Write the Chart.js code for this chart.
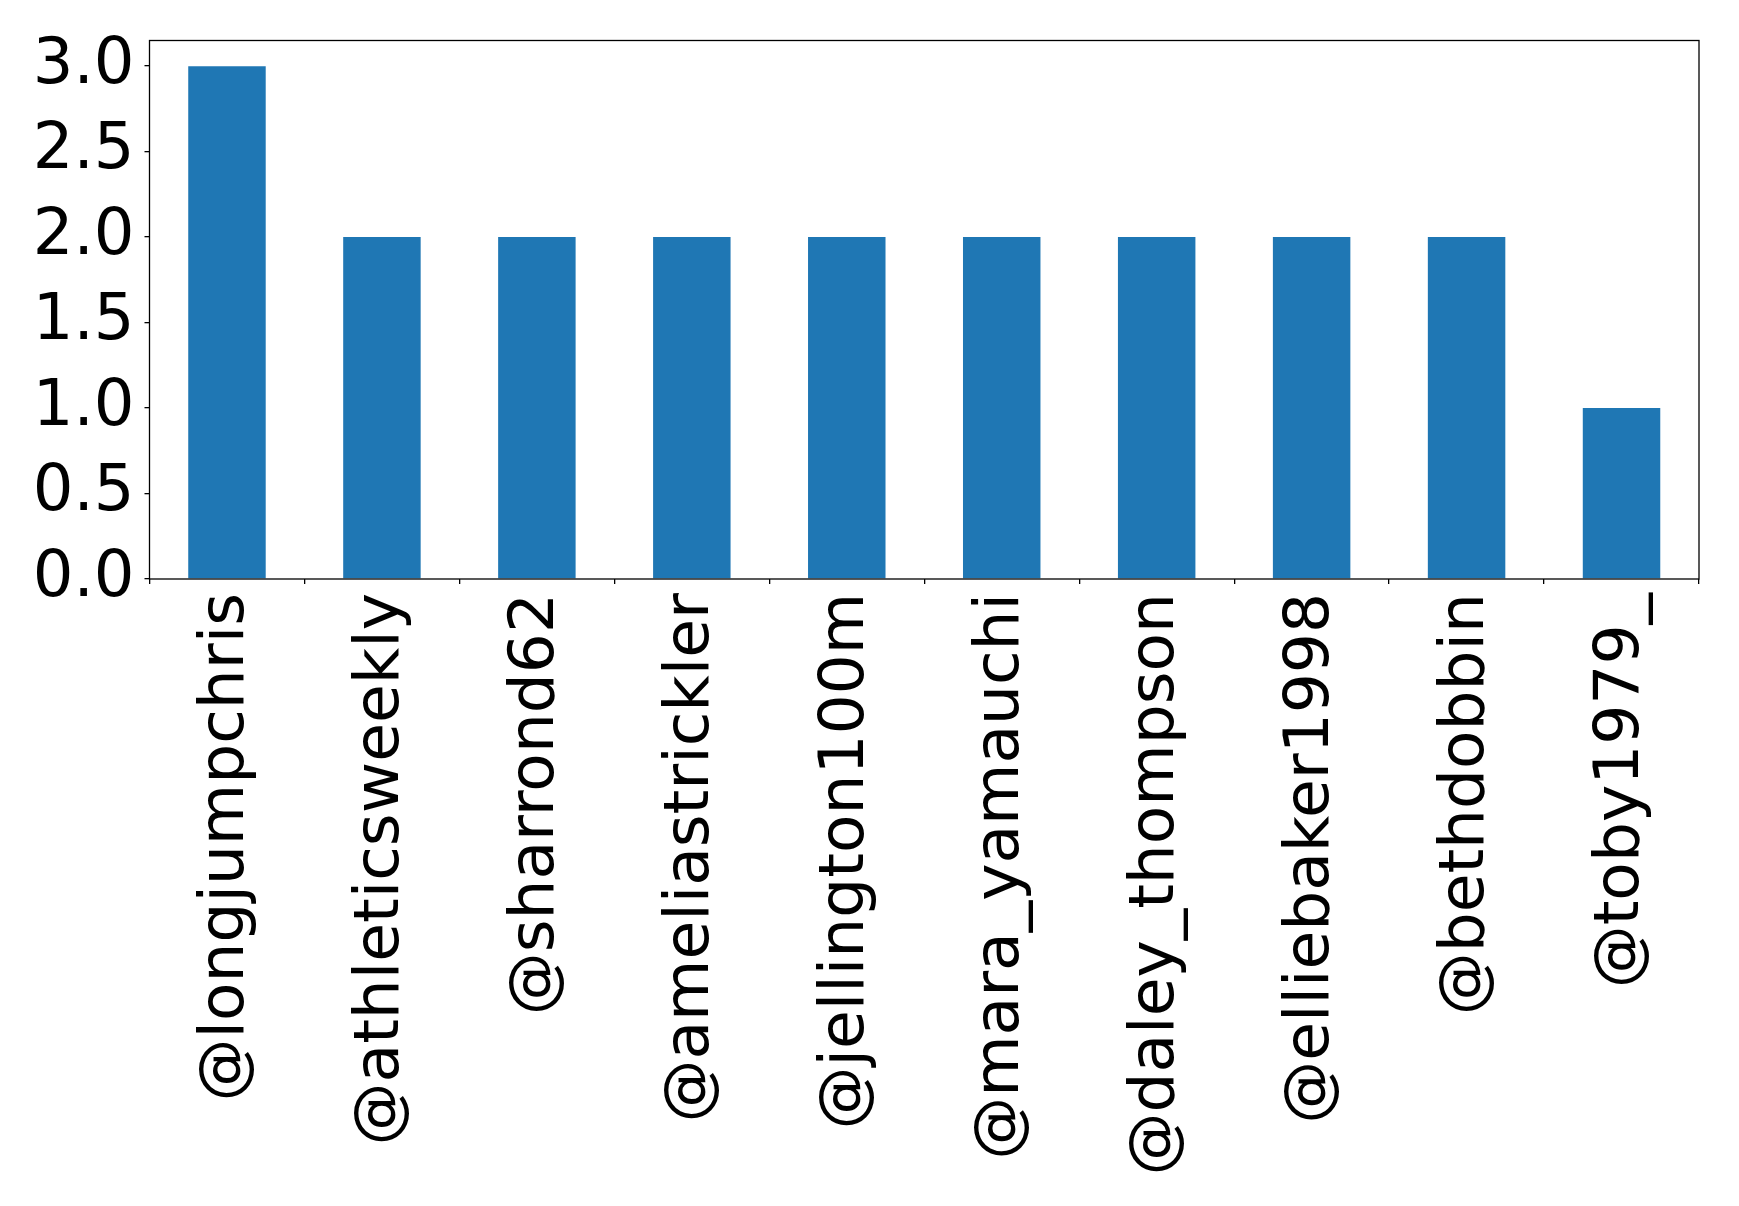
<!DOCTYPE html>
<html>
<head>
<meta charset="utf-8">
<script src="https://cdn.jsdelivr.net/npm/chart.js@4/dist/chart.umd.min.js"></script>
<style>
html,body{margin:0;padding:0;background:#fff;}
#wrap{width:1739px;height:1206px;position:relative;}
</style>
</head>
<body>
<div id="wrap"><canvas id="c" width="1739" height="1206"></canvas></div>
<script>
const categories = ["@longjumpchris","@athleticsweekly","@sharrond62","@ameliastrickler","@jellington100m","@mara_yamauchi","@daley_thompson","@elliebaker1998","@bethdobbin","@toby1979_"];
const counts = [3,2,2,2,2,2,2,2,2,1];
const yTickValues = [0,0.5,1.0,1.5,2.0,2.5,3.0];

const frame = {
  id:'frame',
  afterDraw(chart){
    const a = chart.chartArea, ctx = chart.ctx;
    ctx.save();
    ctx.strokeStyle = '#000';
    ctx.lineWidth = 1.3;
    ctx.strokeRect(a.left, a.top, a.right - a.left, a.bottom - a.top);
    ctx.restore();
  }
};

new Chart(document.getElementById('c'), {
  type:'bar',
  data:{labels:categories, datasets:[{data:counts, backgroundColor:'#1f77b4', borderWidth:0, categoryPercentage:1.0, barPercentage:0.5}]},
  plugins:[frame],
  options:{
    responsive:false,
    animation:false,
    layout:{padding:{top:40.5,right:40,bottom:0,left:0}},
    plugins:{legend:{display:false},tooltip:{enabled:false}},
    scales:{
      x:{
        offset:true,
        grid:{display:true,drawOnChartArea:false,drawTicks:true,tickLength:5,color:'#000',lineWidth:1.3},
        border:{display:false},
        ticks:{autoSkip:false,minRotation:90,maxRotation:90,padding:9,color:'#000',font:{family:'DejaVu Sans',size:63}},
        afterFit(s){ s.height = 627; s.paddingLeft = 0; s.paddingRight = 0; }
      },
      y:{
        min:0,max:3.15,
        grid:{display:true,drawOnChartArea:false,drawTicks:true,tickLength:5,color:'#000',lineWidth:1.3},
        border:{display:false},
        afterBuildTicks(s){ s.ticks = yTickValues.map(v=>({value:v})); },
        ticks:{includeBounds:false,padding:10,color:'#000',font:{family:'DejaVu Sans',size:64},callback:(v)=>Number(v).toFixed(1)},
        afterFit(s){ s.width = 149.5; s.paddingTop = 0; s.paddingBottom = 0; }
      }
    }
  }
});
</script>
</body>
</html>
